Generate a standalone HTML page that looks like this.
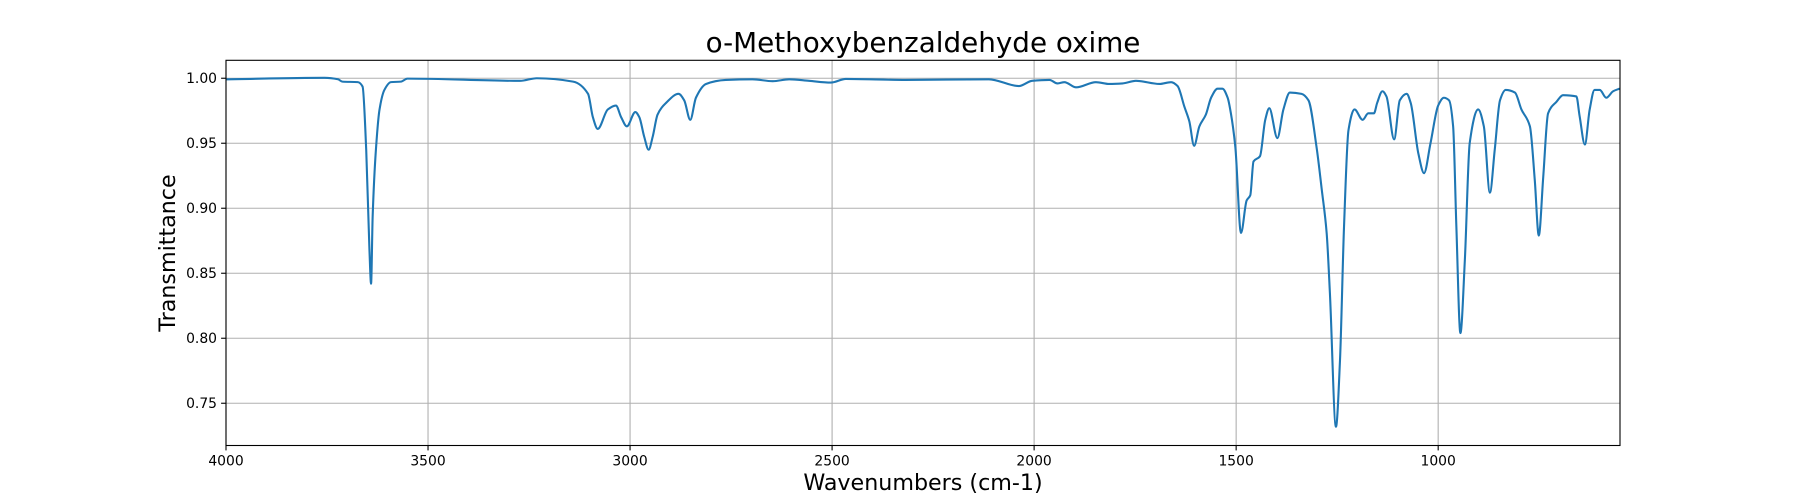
<!DOCTYPE html>
<html><head><meta charset="utf-8"><style>
html,body{margin:0;padding:0;background:#fff;}
svg{display:block;font-family:"DejaVu Sans","Liberation Sans",sans-serif;}
</style></head><body>
<svg id="chart" width="1800" height="500" viewBox="0 0 1800 500">
<rect x="0" y="0" width="1800" height="500" fill="#fff"/>
<text x="923" y="52" font-size="27.8" text-anchor="middle" fill="#000">o-Methoxybenzaldehyde oxime</text>
<g id="grid"></g>
<g id="series"></g>
<rect x="226" y="60.3" width="1394" height="385.2" fill="none" stroke="#000" stroke-width="1.1"/>
<g id="xticks"></g>
<g id="yticks"></g>
<text x="923" y="490" font-size="22.2" text-anchor="middle" fill="#000">Wavenumbers (cm-1)</text>
<text x="0" y="0" font-size="22.2" text-anchor="middle" fill="#000" transform="translate(175,253) rotate(-90)">Transmittance</text>
</svg>
<script>
const xTicks = [4000, 3500, 3000, 2500, 2000, 1500, 1000];
const yTicks = [0.75, 0.80, 0.85, 0.90, 0.95, 1.00];
const yTickLabels = ["0.75", "0.80", "0.85", "0.90", "0.95", "1.00"];
const wavenumbers = [4000,3756,3723,3712,3674,3662,3653,3645,3641,3637,3629,3620,3608,3592,3567,3551,3272,3231,3141,3104,
3092,3080,3055,3035,3022,3008,2987,2977,2965,2954,2944,2932,2911,2880,2866,2851,2837,2812,2763,2697,2647,2606,2557,2503,2466,2318,2112,2038,2005,
1962,1942,1925,1896,1847,1814,1781,1748,1690,1661,1645,1628,1616,1604,1591,1575,1562,1546,1534,
1521,1513,1502,1488,1474,1465,1457,1441,1428,1418,1398,1383,1367,1338,1321,1301,1288,1276,1268,1253,1243,1233,1222,1207,1187,1173,1159,1151,1138,1128,1109,1095,1078,1068,1049,1035,1019,1000,986,973,963,955,945,934,922,901,887,872,860,847,833,810,794,773,761,751,740,728,707,691,658,650,637,625,613,600,584,567,551];
const transmittance = [0.9992,1.0003,0.9992,0.9974,0.997,0.9936,0.945,0.868,0.842,0.894,0.945,0.976,0.991,0.997,0.9974,0.9997,0.998,1.0,0.9974,0.988,
0.970,0.961,0.976,0.979,0.970,0.963,0.974,0.970,0.955,0.945,0.955,0.972,0.981,0.988,0.983,0.968,0.985,0.9956,0.9987,0.9992,0.9977,0.9992,0.998,0.9967,0.9995,0.9987,0.9992,0.994,0.998,
0.9987,0.996,0.997,0.993,0.997,0.9956,0.996,0.998,0.9956,0.997,0.994,0.978,0.967,0.948,0.963,0.972,0.985,0.992,0.992,
0.985,0.973,0.947,0.881,0.906,0.910,0.936,0.940,0.968,0.977,0.954,0.976,0.989,0.988,0.983,0.947,0.914,0.881,0.835,0.732,0.783,0.886,0.960,0.976,0.968,0.973,0.973,0.981,0.990,0.986,0.953,0.983,0.988,0.981,0.942,0.927,0.950,0.979,0.985,0.983,0.963,0.886,0.804,0.860,0.950,0.976,0.963,0.912,0.945,0.983,0.991,0.989,0.976,0.963,0.922,0.879,0.924,0.973,0.982,0.987,0.986,0.971,0.949,0.976,0.991,0.991,0.985,0.990,0.992];

const NS = "http://www.w3.org/2000/svg";
const L = 226, R = 1620, T = 60.3, B = 445.5;
const xMax = 4000, xMin = 550, yMin = 0.7175, yMax = 1.0138;
function sx(v){ return L + (xMax - v) / (xMax - xMin) * (R - L); }
function sy(v){ return B - (v - yMin) / (yMax - yMin) * (B - T); }
function mk(tag, attrs, parent){ const e = document.createElementNS(NS, tag); for (const k in attrs) e.setAttribute(k, attrs[k]); parent.appendChild(e); return e; }

const grid = document.getElementById('grid');
const xg = document.getElementById('xticks');
const yg = document.getElementById('yticks');
xTicks.forEach(v => {
  const x = sx(v);
  const gl = mk('line', {x1:x, x2:x, y1:T, y2:B, stroke:'#b0b0b0', 'stroke-width':1.1}, grid);
  
  
  const tk = mk('line', {x1:x, x2:x, y1:B, y2:B+4.9, stroke:'#000', 'stroke-width':1.1}, xg);
  
  
  const t = mk('text', {x:x, y:B+20, 'font-size':13.9, 'text-anchor':'middle', fill:'#000'}, xg);
  t.textContent = String(v);
  
  
});
yTicks.forEach((v, i) => {
  const y = sy(v);
  const gl = mk('line', {x1:L, x2:R, y1:y, y2:y, stroke:'#b0b0b0', 'stroke-width':1.1}, grid);
  
  
  const tk = mk('line', {x1:L-4.9, x2:L, y1:y, y2:y, stroke:'#000', 'stroke-width':1.1}, yg);
  
  
  const t = mk('text', {x:L-9, y:y+5, 'font-size':13.9, 'text-anchor':'end', fill:'#000'}, yg);
  t.textContent = yTickLabels[i];
  
  
});

// monotone cubic (Fritsch-Carlson) in screen x
const xs = wavenumbers.map(sx), ys = transmittance.map(sy);
const n = xs.length;
const dl = [], h = [];
for (let i = 0; i < n - 1; i++) { h[i] = xs[i+1] - xs[i]; dl[i] = (ys[i+1] - ys[i]) / h[i]; }
const m = new Array(n);
m[0] = dl[0]; m[n-1] = dl[n-2];
for (let i = 1; i < n - 1; i++) {
  if (dl[i-1] * dl[i] <= 0) m[i] = 0;
  else { const w1 = 2*h[i] + h[i-1], w2 = h[i] + 2*h[i-1]; m[i] = (w1 + w2) / (w1/dl[i-1] + w2/dl[i]); }
}
let d = 'M' + xs[0].toFixed(2) + ' ' + ys[0].toFixed(2);
for (let i = 0; i < n - 1; i++) {
  const t3 = h[i] / 3;
  d += ' C' + (xs[i]+t3).toFixed(2) + ' ' + (ys[i]+m[i]*t3).toFixed(2) + ' ' + (xs[i+1]-t3).toFixed(2) + ' ' + (ys[i+1]-m[i+1]*t3).toFixed(2) + ' ' + xs[i+1].toFixed(2) + ' ' + ys[i+1].toFixed(2);
}
const line = mk('path', {d:d, fill:'none', stroke:'#1f77b4', 'stroke-width':2.1, 'stroke-linejoin':'round'}, document.getElementById('series'));


</script>
</body></html>
